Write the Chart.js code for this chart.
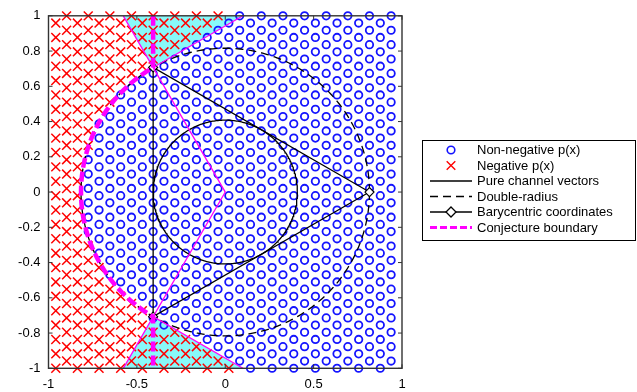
<!DOCTYPE html>
<html>
<head>
<meta charset="utf-8">
<script src="https://cdn.jsdelivr.net/npm/chart.js@4.4.0/dist/chart.umd.min.js"></script>
<style>
html, body { margin: 0; padding: 0; background: #fff; }
#wrap { width: 637px; height: 392px; }
</style>
</head>
<body>
<div id="wrap"><canvas id="chart" width="637" height="392"></canvas></div>
<script>
// values
const xTickVals = [-1, -0.5, 0, 0.5, 1];
const yTickVals = [-1, -0.8, -0.6, -0.4, -0.2, 0, 0.2, 0.4, 0.6, 0.8, 1];

const legendLabels = ['Non-negative p(x)', 'Negative p(x)', 'Pure channel vectors',
                      'Double-radius', 'Barycentric coordinates', 'Conjecture boundary'];

// triangle of pure channels (vertices)
const triX = [0.816, -0.408, -0.408, 0.816];
const triY = [0, 0.707, -0.707, 0];

// circle radii: pure channel circle, double radius
const radii = [0.408, 0.816];

// cyan wedges (top / bottom)
const wedgeTopX = [-0.577, -0.408, 0.1];
const wedgeTopY = [1, 0.707, 1];
const wedgeBotX = [-0.577, -0.408, 0.1];
const wedgeBotY = [-1, -0.707, -1];

// thin magenta line through the centre
const midLineX = [-0.577, 0, -0.577];
const midLineY = [1, 0, -1];

// sample grid of x (column / row steps, first column, first row)
const gridX0 = 0.816, gridDx = 0.0612, gridCols = [-2, 29];
const gridY0 = 0.9996, gridDy = 0.0408, gridRows = 50;

// ---------------------------------------------------------------
const Rb = radii[1];
const vy = triY[1];

function isNegative(x, y) {
  const ay = Math.abs(y);
  if (ay <= vy) return x < -Math.sqrt(Rb * Rb - ay * ay);
  const xt = triX[1] + (ay - vy) * Math.sqrt(3);
  return x < xt - 0.025;
}

const posPts = [], negPts = [];
for (let n = 0; n < gridRows; n++) {
  const y = gridY0 - n * gridDy;
  for (let m = gridCols[0]; m <= gridCols[1]; m++) {
    if ((m + n) % 2 !== 0) continue;
    const x = gridX0 - m * gridDx;
    (isNegative(x, y) ? negPts : posPts).push({x: x, y: y});
  }
}

function pts(xs, ys) { return xs.map((x, i) => ({x: x, y: ys[i]})); }

function arc(r, a0, a1) {
  const out = [];
  for (let a = a0; a <= a1 + 0.001; a += 1) {
    const t = a * Math.PI / 180;
    out.push({x: r * Math.cos(t), y: r * Math.sin(t)});
  }
  return out;
}

const conjecture = [{x: triX[1], y: 1}].concat(arc(Rb, 120, 240)).concat([{x: triX[2], y: -1}]);

const lineBase = {showLine: true, pointRadius: 0, fill: false, tension: 0};

const datasets = [
  Object.assign({}, lineBase, {data: conjecture, borderColor: '#ff00ff', borderWidth: 4.5, borderDash: [10, 4], order: 1}),
  Object.assign({}, lineBase, {data: pts(midLineX, midLineY), borderColor: '#ff00ff', borderWidth: 1.3, order: 2}),
  Object.assign({}, lineBase, {data: pts(wedgeTopX.slice(1), wedgeTopY.slice(1)), borderColor: '#ff00ff', borderWidth: 1.3, order: 2}),
  Object.assign({}, lineBase, {data: pts(wedgeBotX.slice(1), wedgeBotY.slice(1)), borderColor: '#ff00ff', borderWidth: 1.3, order: 2}),
  Object.assign({}, lineBase, {data: pts(triX, triY), borderColor: '#000', borderWidth: 1.3, order: 3,
    pointRadius: [4.5, 4.5, 4.5, 0], pointStyle: 'rectRot', pointBackgroundColor: '#fff', pointBorderColor: '#000', pointBorderWidth: 1.2}),
  Object.assign({}, lineBase, {data: arc(radii[0], 0, 360), borderColor: '#000', borderWidth: 1.3, order: 3}),
  Object.assign({}, lineBase, {data: arc(radii[1], 0, 360), borderColor: '#000', borderWidth: 1.3, borderDash: [8, 5], order: 3}),
  {data: posPts, pointStyle: 'circle', pointRadius: 3.7, borderColor: 'rgb(20,20,255)', backgroundColor: 'rgba(0,0,0,0)', borderWidth: 1.8, clip: false, order: 5},
  {data: negPts, pointStyle: 'crossRot', pointRadius: 6.3, borderColor: 'rgb(255,0,0)', backgroundColor: 'rgb(255,0,0)', borderWidth: 1.5, clip: false, order: 5},
  Object.assign({}, lineBase, {data: pts(wedgeTopX, wedgeTopY), borderWidth: 0, borderColor: 'rgba(0,0,0,0)', backgroundColor: '#88f9f9', fill: {value: 1}, order: 10}),
  Object.assign({}, lineBase, {data: pts(wedgeBotX, wedgeBotY), borderWidth: 0, borderColor: 'rgba(0,0,0,0)', backgroundColor: '#88f9f9', fill: {value: -1}, order: 10})
];

// box, inward ticks and the legend
const frame = {
  id: 'frame',
  afterDraw(chart) {
    const ctx = chart.ctx, a = chart.chartArea;
    const sx = chart.scales.x, sy = chart.scales.y;
    ctx.save();
    ctx.strokeStyle = '#333';
    ctx.lineWidth = 1.4;
    ctx.strokeRect(a.left, a.top, a.right - a.left, a.bottom - a.top);
    ctx.lineWidth = 1;
    ctx.beginPath();
    xTickVals.forEach(v => {
      const px = sx.getPixelForValue(v);
      ctx.moveTo(px, a.bottom); ctx.lineTo(px, a.bottom - 4);
      ctx.moveTo(px, a.top); ctx.lineTo(px, a.top + 4);
    });
    yTickVals.forEach(v => {
      const py = sy.getPixelForValue(v);
      ctx.moveTo(a.left, py); ctx.lineTo(a.left + 4, py);
      ctx.moveTo(a.right, py); ctx.lineTo(a.right - 4, py);
    });
    ctx.stroke();

    // legend
    const bx = 422.5, by = 140.5, bw = 213, bh = 100;
    ctx.fillStyle = '#fff';
    ctx.fillRect(bx, by, bw, bh);
    ctx.strokeStyle = '#000';
    ctx.lineWidth = 1;
    ctx.strokeRect(bx, by, bw, bh);
    const x0 = 430, x1 = 472, xm = 451, tx = 477;
    ctx.font = '13px "Liberation Sans", Arial, sans-serif';
    ctx.textBaseline = 'middle';
    ctx.textAlign = 'left';
    legendLabels.forEach((lab, i) => {
      const y = 150 + i * 15.5;
      ctx.save();
      if (i === 0) {
        ctx.strokeStyle = 'rgb(20,20,255)'; ctx.lineWidth = 1.6;
        ctx.beginPath(); ctx.arc(xm, y, 3.8, 0, Math.PI * 2); ctx.stroke();
      } else if (i === 1) {
        ctx.strokeStyle = 'rgb(255,0,0)'; ctx.lineWidth = 1.4;
        ctx.beginPath();
        ctx.moveTo(xm - 4.3, y - 4.3); ctx.lineTo(xm + 4.3, y + 4.3);
        ctx.moveTo(xm - 4.3, y + 4.3); ctx.lineTo(xm + 4.3, y - 4.3);
        ctx.stroke();
      } else if (i === 2 || i === 3) {
        ctx.strokeStyle = '#000'; ctx.lineWidth = 1.3;
        if (i === 3) ctx.setLineDash([8, 5]);
        ctx.beginPath(); ctx.moveTo(x0, y); ctx.lineTo(x1, y); ctx.stroke();
      } else if (i === 4) {
        ctx.strokeStyle = '#000'; ctx.lineWidth = 1.3;
        ctx.beginPath(); ctx.moveTo(x0, y); ctx.lineTo(x1, y); ctx.stroke();
        ctx.fillStyle = '#fff';
        ctx.beginPath();
        ctx.moveTo(xm, y - 5); ctx.lineTo(xm + 5, y); ctx.lineTo(xm, y + 5); ctx.lineTo(xm - 5, y);
        ctx.closePath(); ctx.fill(); ctx.stroke();
      } else {
        ctx.strokeStyle = '#ff00ff'; ctx.lineWidth = 3;
        ctx.setLineDash([7, 3]);
        ctx.beginPath(); ctx.moveTo(x0, y); ctx.lineTo(x1, y); ctx.stroke();
      }
      ctx.restore();
      ctx.fillStyle = '#000';
      ctx.fillText(lab, tx, y + 0.5);
    });
    ctx.restore();
  }
};

const tickFont = {family: '"Liberation Sans", Arial, sans-serif', size: 13};
const fmt = v => String(Math.round(v * 10) / 10);

new Chart(document.getElementById('chart'), {
  type: 'scatter',
  data: {datasets: datasets},
  options: {
    responsive: false,
    animation: false,
    events: [],
    layout: {padding: {left: 0, right: 235, top: 15, bottom: 0}},
    plugins: {legend: {display: false}, tooltip: {enabled: false}},
    scales: {
      x: {
        type: 'linear', min: -1, max: 1,
        grid: {display: false, drawTicks: false},
        border: {display: false},
        ticks: {font: tickFont, color: '#000', padding: 8, maxRotation: 0, callback: fmt},
        afterBuildTicks: s => { s.ticks = xTickVals.map(v => ({value: v})); },
        afterFit: s => { s.height = 23.7; }
      },
      y: {
        type: 'linear', min: -1, max: 1,
        grid: {display: false, drawTicks: false},
        border: {display: false},
        ticks: {font: tickFont, color: '#000', padding: 8, callback: fmt},
        afterBuildTicks: s => { s.ticks = yTickVals.map(v => ({value: v})); },
        afterFit: s => { s.width = 48.5; }
      }
    }
  },
  plugins: [frame]
});
</script>
</body>
</html>
